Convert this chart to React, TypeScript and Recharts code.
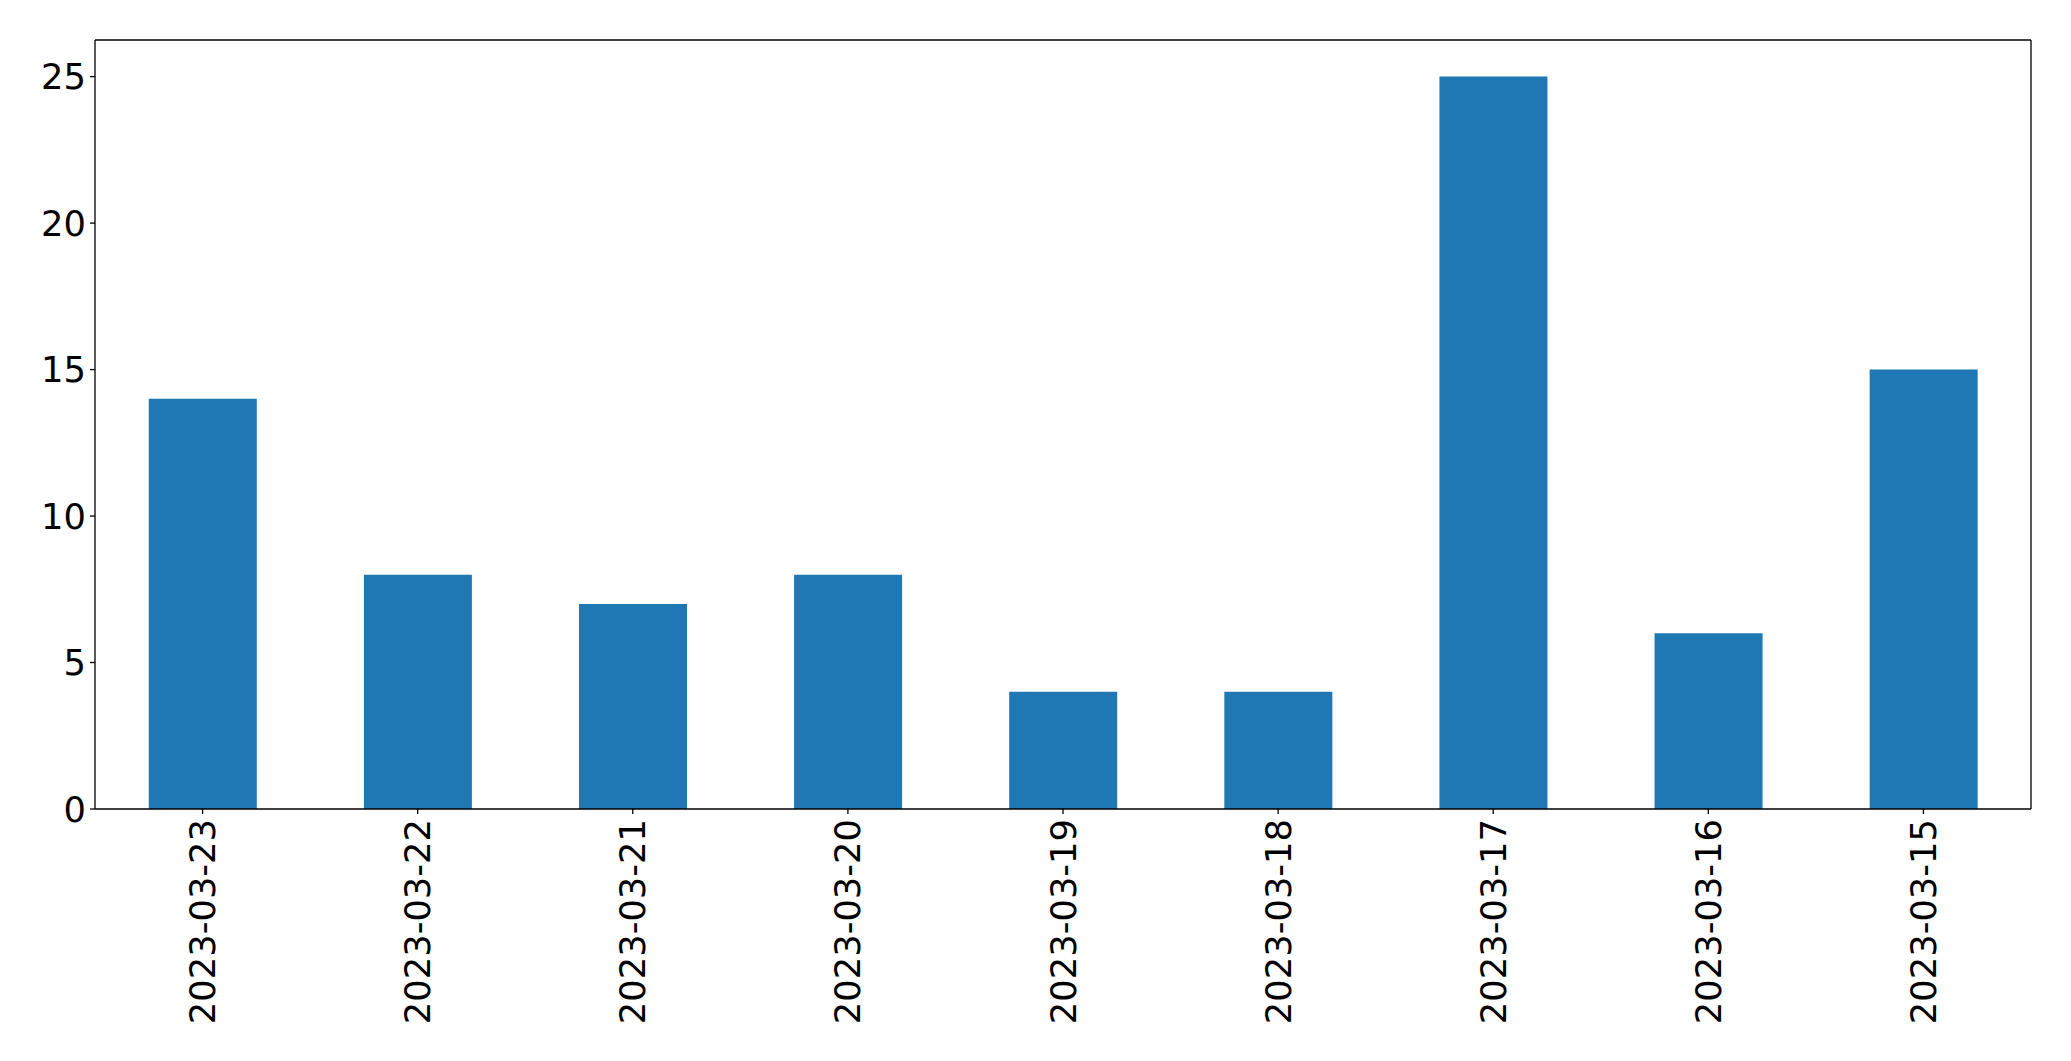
import React from 'react';
import { BarChart, Bar, XAxis, YAxis } from 'recharts';

const dates = ['2023-03-23', '2023-03-22', '2023-03-21', '2023-03-20', '2023-03-19', '2023-03-18', '2023-03-17', '2023-03-16', '2023-03-15'];
const counts = [14, 8, 7, 8, 4, 4, 25, 6, 15];
const yTicks = [0, 5, 10, 15, 20, 25];

const data = dates.map((d, i) => ({ date: d, count: counts[i] }));

const FONT = 'DejaVu Sans';
const FS = 35.3;

const XTick = (props: any) => {
  const { x, y, payload } = props;
  return (
    <text
      x={x}
      y={y}
      transform={`rotate(-90, ${x}, ${y})`}
      textAnchor="end"
      dominantBaseline="central"
      fontFamily={FONT}
      fontSize={FS}
      fill="#000"
    >
      {payload.value}
    </text>
  );
};

export default function App() {
  return (
    <div style={{ position: 'absolute', left: 0, top: 0, width: 2071, height: 1061, background: '#fff' }}>
      <BarChart
        width={2071}
        height={1061}
        data={data}
        margin={{ top: 39, right: 39, left: 0, bottom: 0 }}
        barCategoryGap="25%"
      >
        <XAxis
          dataKey="date"
          xAxisId="main"
          interval={0}
          height={252}
          tickSize={5}
          tickMargin={5}
          stroke="#000"
          tickLine={{ stroke: '#000', strokeWidth: 1.3 }}
          axisLine={{ stroke: '#000', strokeWidth: 1.3 }}
          tick={<XTick />}
        />
        <XAxis dataKey="date" xAxisId="top" orientation="top" height={1} tick={false} tickLine={false} stroke="#000" axisLine={{ stroke: '#000', strokeWidth: 1.3 }} />
        <YAxis
          yAxisId="main"
          width={95}
          domain={[0, 26.25]}
          ticks={yTicks}
          allowDataOverflow
          tickSize={5}
          tickMargin={4}
          stroke="#000"
          tickLine={{ stroke: '#000', strokeWidth: 1.3 }}
          axisLine={{ stroke: '#000', strokeWidth: 1.3 }}
          tick={{ fill: '#000', fontFamily: FONT, fontSize: FS }}
        />
        <YAxis yAxisId="right" orientation="right" width={1} tick={false} tickLine={false} stroke="#000" axisLine={{ stroke: '#000', strokeWidth: 1.3 }} />
        <Bar dataKey="count" xAxisId="main" yAxisId="main" fill="#1f77b4" isAnimationActive={false} />
        <Bar dataKey="count" xAxisId="top" yAxisId="right" fill="none" isAnimationActive={false} />
      </BarChart>
    </div>
  );
}
